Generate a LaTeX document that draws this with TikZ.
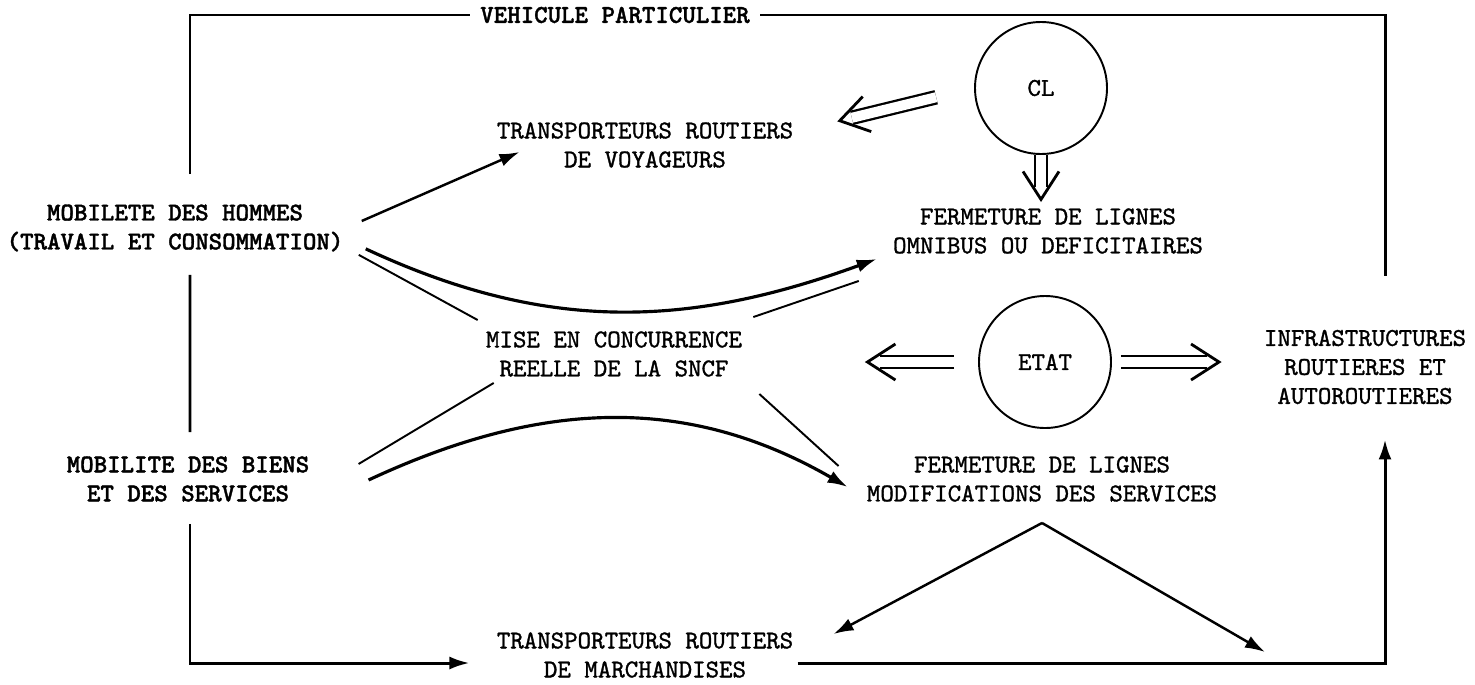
\documentclass[tikz,border=0pt]{standalone}
\usepackage{fontspec}
\usepackage{tikz}
\usetikzlibrary{arrows.meta, positioning}
\newfontfamily\typew[FakeBold=1.2]{lmmono10-regular.otf}
\newfontfamily\typewbold[FakeBold=1.4]{lmmonolt10-bold.otf}

\begin{document}
\begin{tikzpicture}[
    lbl/.style={align=center, inner sep=0pt, font=\fontsize{14.6}{16.5}\selectfont\typew},
    blbl/.style={lbl, font=\fontsize{14.6}{16.5}\selectfont\typewbold},
    ring/.style={circle, draw, line width=1.1pt, minimum size=2.64cm, inner sep=0pt},
    frame/.style={line width=1.7pt},
    arrow/.style={-{Latex[length=0.4cm, width=0.26cm]}, line width=1.4pt},
    flow/.style={-{Latex[length=0.4cm, width=0.26cm]}, line width=1.8pt},
    guide/.style={line width=1.1pt},
    dbl/.style={double, double distance=0.2cm, line width=1.3pt},
    dhead/.style={draw=white, line width=0.1pt, -{Straight Barb[length=0.56cm, width=0.72cm, line width=1.6pt, color=black]}}
]
\useasboundingbox (0,0) rectangle (29.5,-13.68);

% texts
\node[blbl] (hommes) at (3.5,-4.56) {MOBILETE DES HOMMES\\(TRAVAIL ET CONSOMMATION)};
\node[blbl] (biens) at (3.76,-9.58) {MOBILITE DES BIENS\\ET DES SERVICES};
\node[blbl, inner xsep=0.2cm] (veh) at (12.3,-0.3) {VEHICULE PARTICULIER};
\node[lbl] (trv) at (12.9,-2.9) {TRANSPORTEURS ROUTIERS\\DE VOYAGEURS};
\node[lbl] (mise) at (12.28,-7.08) {MISE EN CONCURRENCE\\REELLE DE LA SNCF};
\node[lbl] (tmarch) at (12.9,-13.1) {TRANSPORTEURS ROUTIERS\\DE MARCHANDISES};
\node[lbl] (ferm1) at (20.96,-4.62) {FERMETURE DE LIGNES\\OMNIBUS OU DEFICITAIRES};
\node[lbl] (ferm2) at (20.84,-9.58) {FERMETURE DE LIGNES\\MODIFICATIONS DES SERVICES};
\node[lbl] (infra) at (27.3,-7.34) {INFRASTRUCTURES\\ROUTIERES ET\\AUTOROUTIERES};

% circles
\node[ring, lbl] (cl) at (20.82,-1.76) {CL};
\node[ring, lbl] (etat) at (20.9,-7.24) {ETAT};
\coordinate (vtip) at (25.3,-13.04);

% frame
\draw[frame] ([shift={(0.3,0.6)}]hommes.north) |- (veh.west);
\draw[frame] (veh.east) -| ([shift={(0.4,1.08)}]infra.north);
\draw[frame] ([shift={(0.3,-0.46)}]hommes.south) -- ([shift={(0.04,0.48)}]biens.north);
\draw[frame, -{Latex[length=0.4cm, width=0.26cm]}] ([shift={(0.04,-0.44)}]biens.south) |- ([shift={(-0.54,-0.16)}]tmarch.west);
\draw[frame, -{Latex[length=0.4cm, width=0.26cm]}] ([shift={(0.08,-0.16)}]tmarch.east) -| ([shift={(0.4,-0.7)}]infra.south);

% arrows
\draw[arrow] ([shift={(0.36,0.14)}]hommes.east) -- ([shift={(0.46,-0.14)}]trv.west);

% double arrows of CL and ETAT
\draw[dbl, shorten <=0.78cm, shorten >=1.2cm] (cl.west) -- ([yshift=-0.2cm]trv.north east);
\draw[dhead, shorten <=0.78cm, shorten >=0.9cm] (cl.west) -- ([yshift=-0.2cm]trv.north east);
\draw[dbl, shorten >=0.42cm] (cl.south) -- (cl.south |- ferm1.north);
\draw[dhead, shorten >=0.12cm] (cl.south) -- (cl.south |- ferm1.north);
\draw[dbl, shorten <=0.48cm, shorten >=2.75cm] (etat.west) -- (etat.west -| mise.east);
\draw[dhead, shorten <=0.48cm, shorten >=2.45cm] (etat.west) -- (etat.west -| mise.east);
\draw[dbl, shorten <=0.18cm, shorten >=1.14cm] (etat.east) -- (etat.east -| infra.west);
\draw[dhead, shorten <=0.18cm, shorten >=0.84cm] (etat.east) -- (etat.east -| infra.west);

% flows round the SNCF
\draw[flow] ([shift={(0.44,0.06)}]hommes.south east) to[out=-25, in=200] ([shift={(-0.32,-0.1)}]ferm1.south west);
\draw[guide] ([shift={(0.3,-0.06)}]hommes.south east) -- ([shift={(-0.16,0.22)}]mise.north west);
\draw[guide] ([shift={(0.22,0.28)}]mise.north east) -- ([shift={(-0.68,-0.54)}]ferm1.south west);
\draw[flow] ([shift={(1.18,-0.02)}]biens.east) to[out=25, in=150] ([shift={(-0.38,-0.16)}]ferm2.west);
\draw[guide] ([shift={(0.98,0.3)}]biens.east) -- ([shift={(0.16,-0.12)}]mise.south west);
\draw[guide] ([shift={(0.34,-0.34)}]mise.south east) -- ([shift={(-0.56,0.26)}]ferm2.west);

\draw[arrow] ([yshift=-0.42cm]ferm2.south) -- ([shift={(0.8,-0.04)}]tmarch.north east);
\draw[arrow] ([yshift=-0.42cm]ferm2.south) -- (vtip);

\end{tikzpicture}
\end{document}
